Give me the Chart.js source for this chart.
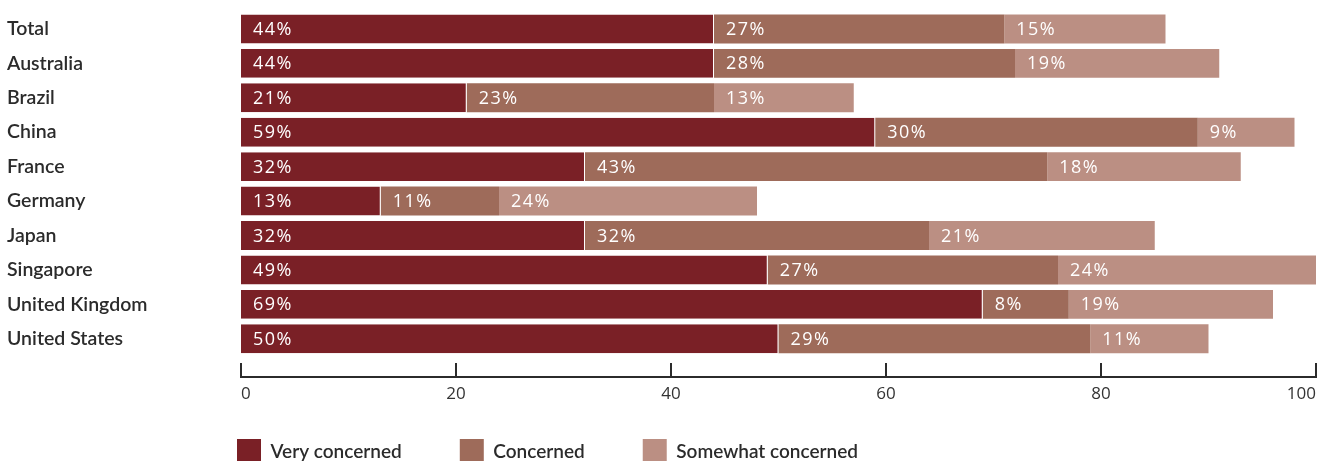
<!DOCTYPE html>
<html>
<head>
<meta charset="utf-8">
<script src="https://cdn.jsdelivr.net/npm/chart.js@4.4.1/dist/chart.umd.min.js"></script>
<style>
  html, body { margin: 0; padding: 0; background: #fff; overflow: hidden; }
</style>
</head>
<body>
<canvas id="concernChart" width="1326" height="505"></canvas>
<script>
const countries = ["Total", "Australia", "Brazil", "China", "France", "Germany", "Japan", "Singapore", "United Kingdom", "United States"];
const veryConcerned = [44, 44, 21, 59, 32, 13, 32, 49, 69, 50];
const concerned = [27, 28, 23, 30, 43, 11, 32, 27, 8, 29];
const somewhatConcerned = [15, 19, 13, 9, 18, 24, 21, 24, 19, 11];
const xTicks = [0, 20, 40, 60, 80, 100];

const LABEL_FONT = "Lato, 'Open Sans', sans-serif";
const FONT = "'Open Sans', sans-serif";
const INK = "#2b2b2b";

// white percentage text at the start of each segment
const segmentLabels = {
  id: "segmentLabels",
  afterDatasetsDraw(chart) {
    const ctx = chart.ctx;
    ctx.save();
    ctx.fillStyle = "#fff";
    ctx.font = "18px " + FONT;
    ctx.letterSpacing = "1.5px";
    ctx.textBaseline = "middle";
    ctx.textAlign = "left";
    chart.data.datasets.forEach((ds, i) => {
      chart.getDatasetMeta(i).data.forEach((bar, j) => {
        const left = Math.min(bar.base, bar.x);
        ctx.fillText(ds.data[j] + "%", left + 12, bar.y + 1);
      });
    });
    ctx.restore();
  }
};

// axis line sits below the bars, tick marks point upward
const bottomAxis = {
  id: "bottomAxis",
  afterDraw(chart) {
    const ctx = chart.ctx;
    const x = chart.scales.x;
    const y = chart.chartArea.bottom + 21;
    ctx.save();
    ctx.strokeStyle = INK;
    ctx.lineWidth = 2;
    ctx.beginPath();
    ctx.moveTo(x.getPixelForValue(xTicks[0]) - 1, y);
    ctx.lineTo(x.getPixelForValue(xTicks[xTicks.length - 1]) + 1, y);
    xTicks.forEach(v => {
      const px = x.getPixelForValue(v);
      ctx.moveTo(px, y);
      ctx.lineTo(px, y - 14);
    });
    ctx.stroke();
    ctx.restore();
  }
};

// pull the legend up under the axis and line it up with the plot's left edge
const legendShift = {
  id: "legendShift",
  beforeDraw(chart) {
    const pad = chart.options.plugins.legend.labels.padding;
    chart.legend.left = chart.chartArea.left - 4 - pad;
    chart.legend.top = chart.chartArea.bottom + 83 - pad;
  }
};

function series(label, data, color, border) {
  return {
    label,
    data,
    backgroundColor: color,
    borderColor: "#fff",
    borderWidth: border ? { top: 0, bottom: 0, left: 0, right: 1 } : 0,
    borderSkipped: false,
    barPercentage: 0.84,
    categoryPercentage: 1.0
  };
}

new Chart(document.getElementById("concernChart"), {
  type: "bar",
  data: {
    labels: countries,
    datasets: [
      series("Very concerned", veryConcerned, "#7a2026", true),
      series("Concerned", concerned, "#9e6b5a", false),
      series("Somewhat concerned", somewhatConcerned, "#bb8f83", false)
    ]
  },
  options: {
    indexAxis: "y",
    responsive: false,
    animation: false,
    layout: { padding: { left: 7, right: 10, top: 10, bottom: 5 } },
    scales: {
      x: {
        type: "linear",
        stacked: true,
        min: xTicks[0],
        max: xTicks[xTicks.length - 1],
        afterFit: scale => {
          scale.height = 50;
          scale.paddingLeft = 0;
          scale.paddingRight = 0;
        },
        grid: { display: false, drawTicks: false },
        border: { display: false },
        ticks: {
          stepSize: xTicks[1] - xTicks[0],
          autoSkip: false,
          align: "inner",
          color: "#333",
          font: { family: FONT, size: 17 },
          padding: 28,
          maxRotation: 0
        }
      },
      y: {
        stacked: true,
        afterFit: scale => { scale.width = 234; },
        grid: { display: false, drawTicks: false },
        border: { display: false },
        ticks: { color: INK, crossAlign: "far", padding: 0, font: { family: LABEL_FONT, size: 19.5, weight: "600" } }
      }
    },
    plugins: {
      tooltip: { enabled: false },
      legend: {
        position: "bottom",
        align: "start",
        labels: {
          boxWidth: 24,
          boxHeight: 26,
          padding: 58,
          color: INK,
          font: { family: LABEL_FONT, size: 19, weight: "600" },
          generateLabels(chart) {
            return Chart.defaults.plugins.legend.labels.generateLabels(chart).map(item => {
              item.lineWidth = 0;
              return item;
            });
          }
        }
      }
    }
  },
  plugins: [segmentLabels, bottomAxis, legendShift]
});
</script>
</body>
</html>
